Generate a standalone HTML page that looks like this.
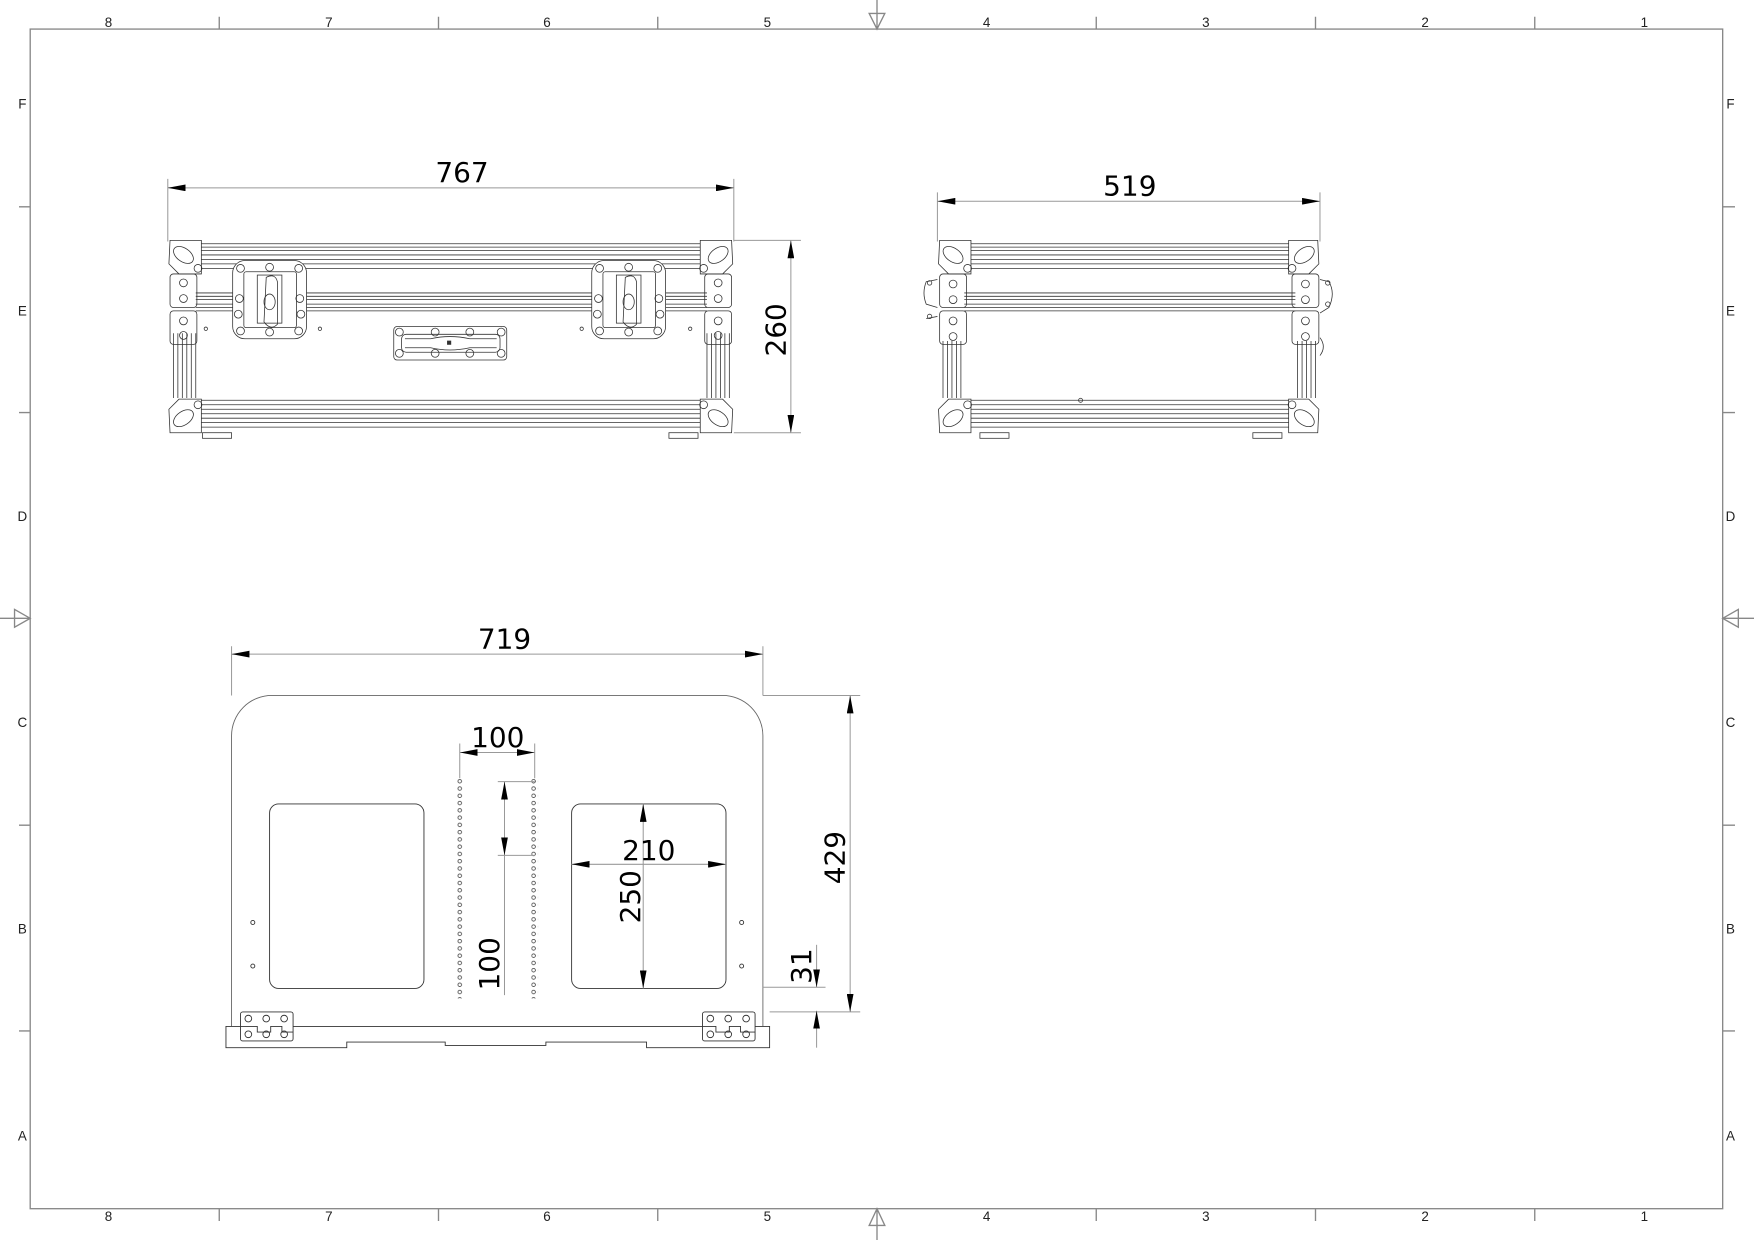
<!DOCTYPE html>
<html><head><meta charset="utf-8"><style>html,body{margin:0;padding:0;background:#fff}svg{display:block}</style></head>
<body>
<svg width="1754" height="1240" viewBox="0 0 1568 1109" preserveAspectRatio="none" xmlns="http://www.w3.org/2000/svg" font-family="Liberation Sans, DejaVu Sans, sans-serif">
<defs>
<marker id="a" viewBox="0 0 16 6" refX="16" refY="3" markerWidth="16" markerHeight="6" markerUnits="userSpaceOnUse" orient="auto-start-reverse"><path d="M0,0 L16,3 L0,6Z" fill="#000"/></marker>
<pattern id="perf" x="0" y="0" width="6" height="6.5" patternUnits="userSpaceOnUse"><circle cx="3" cy="3.2" r="1.6" fill="none" stroke="#333" stroke-width="0.7"/></pattern>
</defs>
<rect width="1568" height="1109" fill="#fff"/>
<g stroke="#888" stroke-width="1.2" fill="none">
<rect x="27" y="26" width="1513" height="1055"/>
<path d="M196,15V26M392,15V26M588,15V26M980,15V26M1176,15V26M1372,15V26"/>
<path d="M196,1081V1092M392,1081V1092M588,1081V1092M980,1081V1092M1176,1081V1092M1372,1081V1092"/>
<path d="M17,185H27M17,369H27M17,738H27M17,922H27"/>
<path d="M1540,185H1551M1540,369H1551M1540,738H1551M1540,922H1551"/>
<path d="M784,0V26M777,12L791,12L784,26Z"/>
<path d="M784,1081V1109M777,1096L791,1096L784,1081Z"/>
<path d="M0,553H27M13,545L13,561L27,553Z"/>
<path d="M1540,553H1568M1554,545L1554,561L1540,553Z"/>
</g>
<g font-size="12" fill="#222" text-anchor="middle">
<text x="97" y="24">8</text><text x="294" y="24">7</text><text x="489" y="24">6</text><text x="686" y="24">5</text><text x="882" y="24">4</text><text x="1078" y="24">3</text><text x="1274" y="24">2</text><text x="1470" y="24">1</text>
<text x="97" y="1092">8</text><text x="294" y="1092">7</text><text x="489" y="1092">6</text><text x="686" y="1092">5</text><text x="882" y="1092">4</text><text x="1078" y="1092">3</text><text x="1274" y="1092">2</text><text x="1470" y="1092">1</text>
<text x="20" y="97">F</text><text x="20" y="282">E</text><text x="20" y="466">D</text><text x="20" y="650">C</text><text x="20" y="835">B</text><text x="20" y="1020">A</text>
<text x="1547" y="97">F</text><text x="1547" y="282">E</text><text x="1547" y="466">D</text><text x="1547" y="650">C</text><text x="1547" y="835">B</text><text x="1547" y="1020">A</text>
</g>

<!-- FRONT VIEW -->
<g stroke="#333" stroke-width="0.7" fill="none">
<path d="M180,218H626M180,221H626M180,224H626M180,228H626M180,232H626M180,236H626M180,240H626"/>
<path d="M175,262H632M175,265H632M175,268H632M175,272H632M175,275H632M175,278H632"/>
<path d="M180,358H626M180,362H626M180,366H626M180,370H626M180,374H626M180,378H626M180,382H626"/>
<path d="M155,298V356M159,298V356M163,298V356M167,298V356M171,298V356M175,298V356"/>
<path d="M632,298V356M636,298V356M640,298V356M644,298V356M648,298V356M652,298V356"/>
<path d="M152,215H180V245H160L151,236Z"/><ellipse cx="164" cy="228" rx="10" ry="6" transform="rotate(35 164 228)"/><circle cx="177" cy="240" r="3.5"/>
<path d="M654,215H626V245H646L655,236Z"/><ellipse cx="642" cy="228" rx="10" ry="6" transform="rotate(-35 642 228)"/><circle cx="629" cy="240" r="3.5"/>
<path d="M152,387H180V357H160L151,366Z"/><ellipse cx="164" cy="374" rx="10" ry="6" transform="rotate(-35 164 374)"/><circle cx="177" cy="362" r="3.5"/>
<path d="M654,387H626V357H646L655,366Z"/><ellipse cx="642" cy="374" rx="10" ry="6" transform="rotate(35 642 374)"/><circle cx="629" cy="362" r="3.5"/>
<rect x="152" y="245" width="24" height="30" rx="3"/><circle cx="164" cy="253" r="3.5"/><circle cx="164" cy="267" r="3.5"/>
<rect x="152" y="278" width="24" height="30" rx="3"/><circle cx="164" cy="287" r="3.5"/><circle cx="164" cy="300" r="3.5"/>
<rect x="630" y="245" width="24" height="30" rx="3"/><circle cx="642" cy="253" r="3.5"/><circle cx="642" cy="267" r="3.5"/>
<rect x="630" y="278" width="24" height="30" rx="3"/><circle cx="642" cy="287" r="3.5"/><circle cx="642" cy="300" r="3.5"/>
<rect x="181" y="387" width="26" height="5"/><rect x="598" y="387" width="26" height="5"/>
<g id="latch">
<rect x="208" y="233" width="66" height="70" rx="11" fill="#fff"/>
<rect x="218" y="243" width="47" height="50" rx="2"/>
<rect x="230" y="246" width="22" height="43"/>
<path d="M238,248 Q246,244 248,252 L248,290 Q242,296 236,288 Z"/>
<ellipse cx="241" cy="270" rx="5" ry="7"/>
<circle cx="241" cy="239" r="3.5"/><circle cx="241" cy="297" r="3.5"/>
<circle cx="215" cy="240" r="3.5"/><circle cx="267" cy="240" r="3.5"/>
<circle cx="214" cy="267" r="3.5"/><circle cx="268" cy="267" r="3.5"/>
<circle cx="213" cy="281" r="3.5"/><circle cx="269" cy="281" r="3.5"/>
<circle cx="215" cy="296" r="3.5"/><circle cx="267" cy="296" r="3.5"/>
</g>
<use href="#latch" x="321"/>
<circle cx="184" cy="294" r="1.5"/><circle cx="286" cy="294" r="1.5"/><circle cx="520" cy="294" r="1.5"/><circle cx="617" cy="294" r="1.5"/>
<rect x="352" y="292" width="101" height="30" rx="3" fill="#fff"/>
<rect x="359" y="299" width="88" height="16" rx="4"/>
<path d="M362,303 H385 Q402,299 420,303 H444 M362,311 H385 Q402,315 420,311 H444"/>
<rect x="400" y="305" width="3" height="3" fill="#333"/>
<circle cx="357" cy="297" r="3.5"/><circle cx="389" cy="297" r="3.5"/><circle cx="420" cy="297" r="3.5"/><circle cx="448" cy="297" r="3.5"/>
<circle cx="357" cy="316" r="3.5"/><circle cx="389" cy="316" r="3.5"/><circle cx="420" cy="316" r="3.5"/><circle cx="448" cy="316" r="3.5"/>
</g>

<!-- SIDE VIEW -->
<g stroke="#333" stroke-width="0.7" fill="none">
<path d="M868,218H1152M868,221H1152M868,224H1152M868,228H1152M868,232H1152M868,236H1152M868,240H1152"/>
<path d="M862,262H1158M862,265H1158M862,268H1158M862,272H1158M862,275H1158M862,278H1158"/>
<path d="M868,358H1152M868,362H1152M868,366H1152M868,370H1152M868,374H1152M868,378H1152M868,382H1152"/>
<path d="M843,305V356M847,305V356M851,305V356M855,305V356M859,305V356"/>
<path d="M1160,305V356M1164,305V356M1168,305V356M1172,305V356M1176,305V356"/>
<path d="M840,215H868V245H848L839,236Z"/><ellipse cx="852" cy="228" rx="10" ry="6" transform="rotate(35 852 228)"/><circle cx="865" cy="240" r="3.5"/>
<path d="M1178,215H1152V245H1170L1179,236Z"/><ellipse cx="1166" cy="228" rx="10" ry="6" transform="rotate(-35 1166 228)"/><circle cx="1155" cy="240" r="3.5"/>
<path d="M840,387H868V357H848L839,366Z"/><ellipse cx="852" cy="374" rx="10" ry="6" transform="rotate(-35 852 374)"/><circle cx="865" cy="362" r="3.5"/>
<path d="M1178,387H1152V357H1170L1179,366Z"/><ellipse cx="1166" cy="374" rx="10" ry="6" transform="rotate(35 1166 374)"/><circle cx="1155" cy="362" r="3.5"/>
<rect x="840" y="245" width="24" height="30" rx="3"/><circle cx="852" cy="254" r="3.5"/><circle cx="852" cy="268" r="3.5"/>
<rect x="840" y="278" width="24" height="30" rx="3"/><circle cx="852" cy="287" r="3.5"/><circle cx="852" cy="301" r="3.5"/>
<rect x="1155" y="245" width="24" height="30" rx="3"/><circle cx="1167" cy="254" r="3.5"/><circle cx="1167" cy="268" r="3.5"/>
<rect x="1155" y="278" width="24" height="30" rx="3"/><circle cx="1167" cy="287" r="3.5"/><circle cx="1167" cy="301" r="3.5"/>
<path d="M838,250 L828,252 Q824,262 828,272 L838,275 M828,285 L838,283"/><circle cx="831" cy="253" r="2"/><circle cx="831" cy="283" r="2"/>
<path d="M1180,250 L1188,252 Q1194,262 1188,275 L1180,280"/><circle cx="1187" cy="253" r="2"/><circle cx="1187" cy="272" r="2"/>
<path d="M1180,302 Q1186,310 1180,318"/>
<circle cx="966" cy="358" r="1.8"/>
<rect x="876" y="387" width="26" height="5"/><rect x="1120" y="387" width="26" height="5"/>
</g>

<!-- BOTTOM VIEW -->
<g stroke="#333" stroke-width="0.8" fill="none">
<path d="M207,918 V658 A36,36 0 0 1 243,622 H646 A36,36 0 0 1 682,658 V918" stroke="#666"/>
<path d="M202,918 H688 V937 H578 V932 H488 V935 H398 V932 H310 V937 H202 Z"/>
<rect x="241" y="719" width="138" height="165" rx="8"/>
<rect x="511" y="719" width="138" height="165" rx="8"/>
<circle cx="226" cy="825" r="1.8"/><circle cx="226" cy="864" r="1.8"/><circle cx="663" cy="825" r="1.8"/><circle cx="663" cy="864" r="1.8"/>
<rect x="215" y="905" width="47" height="26" rx="2" fill="#fff"/>
<path d="M215,918 H230 V923 H242 V918 H252 V923 H262"/>
<circle cx="222" cy="911" r="3"/><circle cx="238" cy="911" r="3"/><circle cx="254" cy="911" r="3"/><circle cx="222" cy="925" r="3"/><circle cx="238" cy="925" r="3"/><circle cx="254" cy="925" r="3"/>
<rect x="628" y="905" width="47" height="26" rx="2" fill="#fff"/>
<path d="M628,918 H640 V923 H652 V918 H662 V923 H675"/>
<circle cx="635" cy="911" r="3"/><circle cx="651" cy="911" r="3"/><circle cx="667" cy="911" r="3"/><circle cx="635" cy="925" r="3"/><circle cx="651" cy="925" r="3"/><circle cx="667" cy="925" r="3"/>
</g>
<rect x="408" y="695" width="6" height="198" fill="url(#perf)"/>
<rect x="475" y="695" width="6" height="198" fill="url(#perf)"/>

<!-- DIMENSIONS -->
<g stroke="#999" stroke-width="0.9" fill="none">
<path d="M150,160V216M656,160V216"/>
<path d="M150,168H656" marker-start="url(#a)" marker-end="url(#a)"/>
<path d="M656,215H716M656,387H716"/>
<path d="M707,215V387" marker-start="url(#a)" marker-end="url(#a)"/>
<path d="M838,172V216M1180,172V216"/>
<path d="M838,180H1180" marker-start="url(#a)" marker-end="url(#a)"/>
<path d="M207,578V622M682,578V622"/>
<path d="M207,585H682" marker-start="url(#a)" marker-end="url(#a)"/>
<path d="M682,622H769M688,905H769"/>
<path d="M760,622V905" marker-start="url(#a)" marker-end="url(#a)"/>
<path d="M411,665V696M478,665V696"/>
<path d="M411,673H478" marker-start="url(#a)" marker-end="url(#a)"/>
<path d="M445,699H478M445,765H478"/>
<path d="M451,699V765" marker-start="url(#a)" marker-end="url(#a)"/>
<path d="M451,765V890"/>
<path d="M511,773H649" marker-start="url(#a)" marker-end="url(#a)"/>
<path d="M575,719V884" marker-start="url(#a)" marker-end="url(#a)"/>
<path d="M682,883H738"/>
<path d="M730,845V883" marker-end="url(#a)"/>
<path d="M730,937V904" marker-end="url(#a)"/>
</g>
<g font-size="25" fill="#000" text-anchor="middle" font-family="DejaVu Sans, Liberation Sans, sans-serif">
<text x="413" y="163">767</text>
<text x="1010" y="175">519</text>
<text transform="translate(702,295) rotate(-90)">260</text>
<text x="451" y="580">719</text>
<text transform="translate(755,767) rotate(-90)">429</text>
<text x="445" y="668">100</text>
<text transform="translate(446,862) rotate(-90)">100</text>
<text x="580" y="769">210</text>
<text transform="translate(572,802) rotate(-90)">250</text>
<text transform="translate(725,864) rotate(-90)">31</text>
</g>
</svg>
</body></html>
